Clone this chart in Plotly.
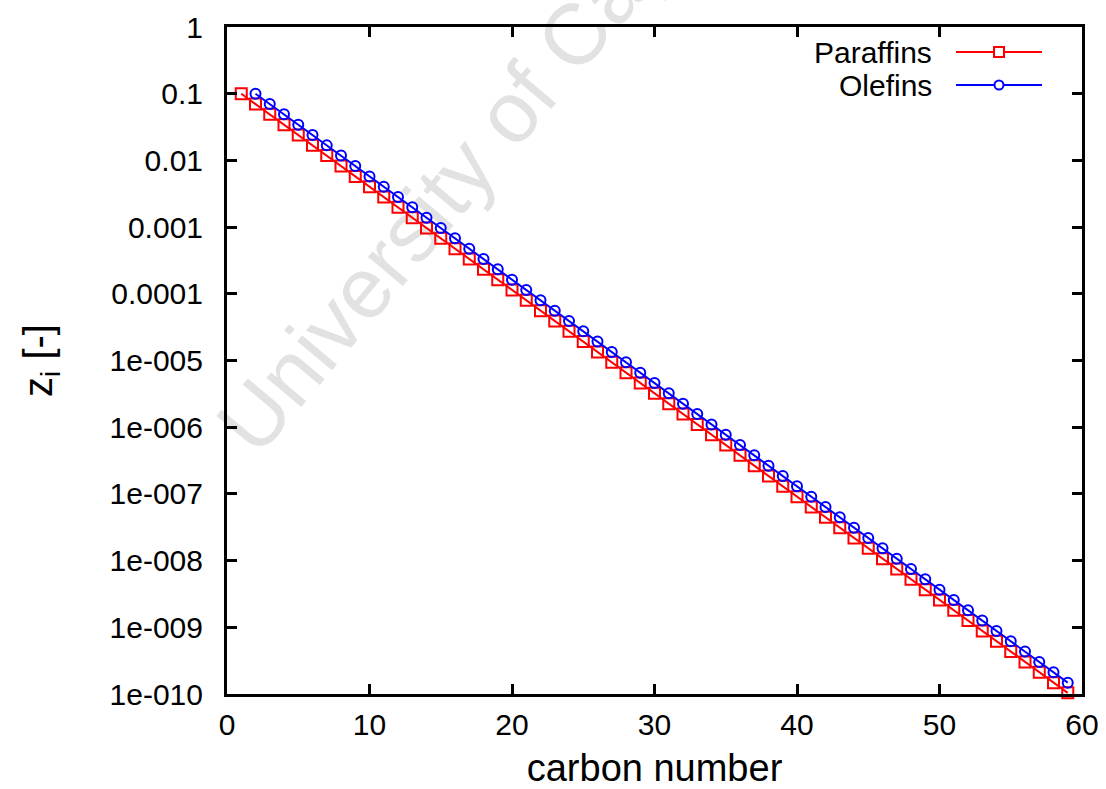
import plotly.graph_objects as go

# ---- data ----
paraffin_carbon = list(range(1, 60))
paraffin_z = [1.00e-1, 7.00e-2, 4.90e-2, 3.43e-2, 2.40e-2, 1.68e-2, 1.18e-2, 8.24e-3,
              5.76e-3, 4.04e-3, 2.82e-3, 1.98e-3, 1.38e-3, 9.69e-4, 6.78e-4, 4.75e-4,
              3.32e-4, 2.33e-4, 1.63e-4, 1.14e-4, 7.98e-5, 5.59e-5, 3.91e-5, 2.74e-5,
              1.92e-5, 1.34e-5, 9.39e-6, 6.57e-6, 4.60e-6, 3.22e-6, 2.25e-6, 1.58e-6,
              1.10e-6, 7.73e-7, 5.41e-7, 3.79e-7, 2.65e-7, 1.86e-7, 1.30e-7, 9.10e-8,
              6.37e-8, 4.46e-8, 3.12e-8, 2.18e-8, 1.53e-8, 1.07e-8, 7.49e-9, 5.24e-9,
              3.67e-9, 2.57e-9, 1.80e-9, 1.26e-9, 8.81e-10, 6.17e-10, 4.32e-10,
              3.02e-10, 2.12e-10, 1.48e-10, 1.04e-10]

olefin_carbon = list(range(2, 60))
olefin_z = [1.00e-1, 7.00e-2, 4.90e-2, 3.43e-2, 2.40e-2, 1.68e-2, 1.18e-2, 8.24e-3,
            5.76e-3, 4.04e-3, 2.82e-3, 1.98e-3, 1.38e-3, 9.69e-4, 6.78e-4, 4.75e-4,
            3.32e-4, 2.33e-4, 1.63e-4, 1.14e-4, 7.98e-5, 5.59e-5, 3.91e-5, 2.74e-5,
            1.92e-5, 1.34e-5, 9.39e-6, 6.57e-6, 4.60e-6, 3.22e-6, 2.25e-6, 1.58e-6,
            1.10e-6, 7.73e-7, 5.41e-7, 3.79e-7, 2.65e-7, 1.86e-7, 1.30e-7, 9.10e-8,
            6.37e-8, 4.46e-8, 3.12e-8, 2.18e-8, 1.53e-8, 1.07e-8, 7.49e-9, 5.24e-9,
            3.67e-9, 2.57e-9, 1.80e-9, 1.26e-9, 8.81e-10, 6.17e-10, 4.32e-10,
            3.02e-10, 2.12e-10, 1.48e-10]

x_ticks = [0, 10, 20, 30, 40, 50, 60]
y_tick_vals = [1, 1e-1, 1e-2, 1e-3, 1e-4, 1e-5, 1e-6, 1e-7, 1e-8, 1e-9, 1e-10]
y_tick_text = ["1", "0.1", "0.01", "0.001", "0.0001", "1e-005", "1e-006",
               "1e-007", "1e-008", "1e-009", "1e-010"]

FONT = "Liberation Sans, Arial, Helvetica, sans-serif"
RED = "#ff0000"
BLUE = "#0000ff"

fig = go.Figure()
fig.add_trace(go.Scatter(
    x=paraffin_carbon, y=paraffin_z, name="Paraffins", mode="lines+markers",
    line=dict(color=RED, width=2),
    marker=dict(symbol="square-open", size=11, color=RED, line=dict(width=2, color=RED)),
    cliponaxis=False, showlegend=False))
fig.add_trace(go.Scatter(
    x=olefin_carbon, y=olefin_z, name="Olefins", mode="lines+markers",
    line=dict(color=BLUE, width=2),
    marker=dict(symbol="circle-open", size=10, color=BLUE, line=dict(width=2, color=BLUE)),
    cliponaxis=False, showlegend=False))

L, R, T, B = 227, 24, 27, 95
W, H = 1106, 789
pw, ph = W - L - R, H - T - B


def px(xp):
    return (xp - L) / pw


def py(yp):
    return (H - B - yp) / ph


shapes = []
# watermark (behind data)
shapes.append(dict(
    type="line", xref="paper", yref="paper", layer="below",
    x0=px(462), y0=py(157), x1=px(590), y1=py(3),
    line=dict(width=0, color="rgba(0,0,0,0)"),
    label=dict(text="University of Cape Town", textangle=-50, textposition="middle",
               xanchor="center", yanchor="middle",
               font=dict(family=FONT, size=86, color="#e2e2e2"))))

# legend samples
for yc, col in [(52, RED), (85, BLUE)]:
    shapes.append(dict(type="line", xref="paper", yref="paper",
                       x0=px(956), x1=px(1042), y0=py(yc), y1=py(yc),
                       line=dict(color=col, width=2)))
shapes.append(dict(type="rect", xref="paper", yref="paper",
                   x0=px(994), x1=px(1004), y0=py(57), y1=py(47),
                   line=dict(color=RED, width=2), fillcolor="white"))
shapes.append(dict(type="circle", xref="paper", yref="paper",
                   x0=px(994.5), x1=px(1003.5), y0=py(89.5), y1=py(80.5),
                   line=dict(color=BLUE, width=2), fillcolor="white"))

annotations = [
    dict(text="Paraffins", xref="paper", yref="paper", x=px(934), y=py(52),
         xanchor="right", yanchor="middle", showarrow=False,
         font=dict(family=FONT, size=30, color="black")),
    dict(text="Olefins", xref="paper", yref="paper", x=px(934), y=py(85),
         xanchor="right", yanchor="middle", showarrow=False,
         font=dict(family=FONT, size=30, color="black")),
]

axis_common = dict(showline=True, linecolor="black", linewidth=3, mirror="ticks",
                   ticks="inside", ticklen=10, tickwidth=2.5, tickcolor="black",
                   showgrid=False, zeroline=False,
                   tickfont=dict(family=FONT, size=30, color="black"))

fig.update_layout(
    width=W, height=H,
    margin=dict(l=L, r=R, t=T, b=B, autoexpand=False),
    paper_bgcolor="white", plot_bgcolor="white",
    shapes=shapes, annotations=annotations,
    xaxis=dict(range=[0, 60], tickvals=x_ticks, ticklabelstandoff=2,
               title=dict(text="carbon number", standoff=34,
                          font=dict(family=FONT, size=38, color="black")),
               **axis_common),
    yaxis=dict(type="log", range=[-10, 0], tickvals=y_tick_vals, ticktext=y_tick_text,
               ticklabelstandoff=15,
               title=dict(text="z<sub>i</sub> [-]", standoff=45,
                          font=dict(family=FONT, size=40, color="black")),
               **axis_common),
)

fig.write_html("out.html")
